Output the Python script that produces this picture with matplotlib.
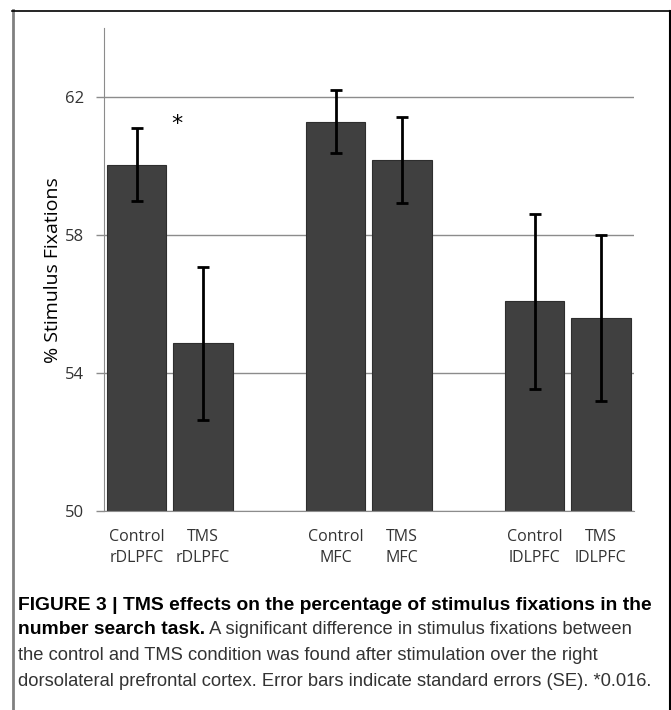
import matplotlib.pyplot as plt
from matplotlib.lines import Line2D

# data
labels = ['Control\nrDLPFC', 'TMS\nrDLPFC', 'Control\nMFC', 'TMS\nMFC',
          'Control\nlDLPFC', 'TMS\nlDLPFC']
slots = [0, 1, 3, 4, 6, 7]
means = [60.04, 54.86, 61.29, 60.17, 56.08, 55.60]
errors = [1.06, 2.21, 0.91, 1.25, 2.53, 2.41]
yticks = [50, 54, 58, 62]

caption_bold1 = 'FIGURE 3 | TMS effects on the percentage of stimulus fixations in the'
caption_bold2 = 'number search task.'
caption_rest2 = ' A significant difference in stimulus fixations between'
caption_line3 = 'the control and TMS condition was found after stimulation over the right'
caption_line4 = 'dorsolateral prefrontal cortex. Error bars indicate standard errors (SE). *0.016.'

W, H = 671, 710
fig = plt.figure(figsize=(W / 100, H / 100), dpi=100)
ax = fig.add_axes([103.5 / W, 1 - 511 / H, (634 - 103.5) / W, (511 - 28.3) / H])

chart_font = 'Open Sans'
ax.bar(slots, means, width=0.9, color='#404040', edgecolor='#2e2e2e', linewidth=0.8, zorder=2)
ax.errorbar(slots, means, yerr=errors, fmt='none', ecolor='black', elinewidth=2,
            capsize=4, capthick=2, zorder=3)

ax.set_xlim(-0.5, 7.5)
ax.set_ylim(50, 64)
ax.set_yticks(yticks)
ax.set_yticklabels([str(t) for t in yticks], fontsize=12, color='#333333', family=chart_font)
ax.set_xticks(slots)
ax.set_xticklabels(labels, fontsize=11.5, color='#333333', family=chart_font, linespacing=1.45)
ax.tick_params(axis='x', length=0, pad=13)
ax.tick_params(axis='y', length=6, width=1, color='#8c8c8c', pad=8)
ax.yaxis.grid(True, color='#8c8c8c', linewidth=1, zorder=0)
ax.set_axisbelow(True)
for s in ['top', 'right']:
    ax.spines[s].set_visible(False)
ax.spines['left'].set_color('#8c8c8c')
ax.spines['bottom'].set_color('#8c8c8c')
ax.set_ylabel('% Stimulus Fixations', fontsize=14, family=chart_font, labelpad=2)

# significance star
ax.text(0.61, 61.05, '*', fontsize=16, ha='center', va='baseline')

# frame around the figure
fig.add_artist(Line2D([13 / W, 13 / W], [0, 1 - 10 / H], transform=fig.transFigure,
                      color='#808080', linewidth=2))
fig.add_artist(Line2D([12 / W, 669.5 / W], [1 - 10.5 / H, 1 - 10.5 / H], transform=fig.transFigure,
                      color='black', linewidth=1.2))
fig.add_artist(Line2D([669.5 / W, 669.5 / W], [0, 1 - 10.5 / H], transform=fig.transFigure,
                      color='black', linewidth=1.5))

# caption, sizes fitted so the lines span the same width as in the figure
cap_font = 'Liberation Sans'
x0 = 18 / W
r = fig.canvas.get_renderer()
probe = fig.text(x0, 0.5, caption_line4, fontsize=12, family=cap_font)
cap_size = 12 * (655 - 18) / probe.get_window_extent(renderer=r).width
probe.remove()
probe = fig.text(x0, 0.5, caption_bold1, fontsize=12, family=cap_font, fontweight='bold')
bold_size = 12 * (648 - 18) / probe.get_window_extent(renderer=r).width
probe.remove()

fig.text(x0, 1 - 605 / H, caption_bold1, fontsize=bold_size, fontweight='bold',
         family=cap_font, va='center', color='black')
t2 = fig.text(x0, 1 - 630 / H, caption_bold2, fontsize=bold_size, fontweight='bold',
              family=cap_font, va='center', color='black')
bb = t2.get_window_extent(renderer=r)
fig.text(bb.x1 / W, 1 - 630 / H, caption_rest2, fontsize=cap_size, family=cap_font,
         va='center', color='#333333')
fig.text(x0, 1 - 656 / H, caption_line3, fontsize=cap_size, family=cap_font,
         va='center', color='#333333')
fig.text(x0, 1 - 682 / H, caption_line4, fontsize=cap_size, family=cap_font,
         va='center', color='#333333')

fig.savefig('out.png', dpi=100)
